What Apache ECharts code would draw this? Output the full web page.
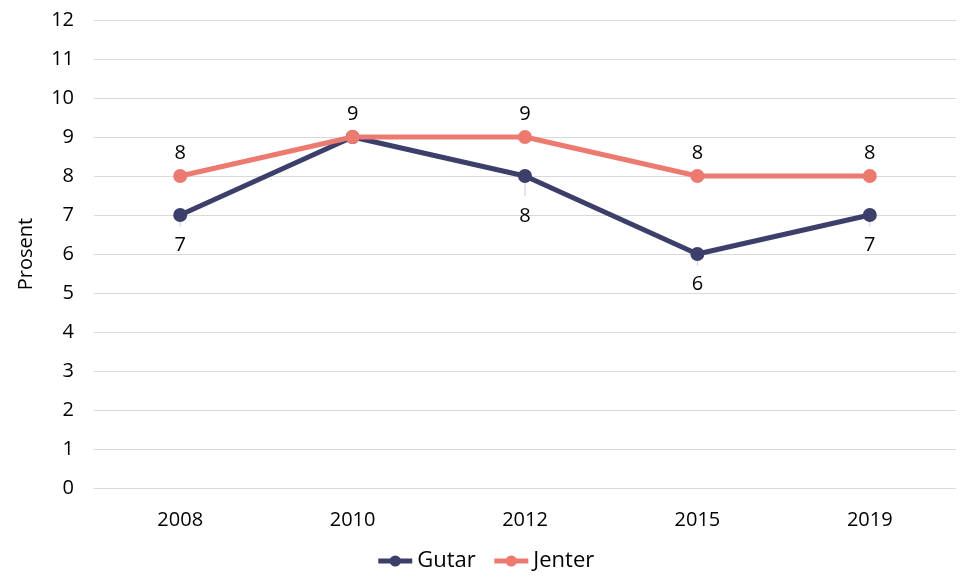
<!DOCTYPE html>
<html>
<head>
<meta charset="utf-8">
<script src="https://cdn.jsdelivr.net/npm/echarts@6/dist/echarts.min.js"></script>
<style>
  html, body { margin: 0; padding: 0; background: #fff; }
  #chart { width: 970px; height: 583px; }
</style>
</head>
<body>
<div id="chart"></div>
<script>
// årstall og verdiar (prosent)
const years = ['2008', '2010', '2012', '2015', '2019'];
const gutar = [7, 9, 8, 6, 7];
const jenter = [8, 9, 9, 8, 8];

const font = '"Open Sans", "Liberation Sans", sans-serif';
const chart = echarts.init(document.getElementById('chart'));

// etikett for gutar: skjul der den overlappar jenter, 2012 står lenger ned
const gutarData = gutar.map((v, i) => {
    if (v === jenter[i]) return { value: v, label: { show: false } };
    if (i === 2) return { value: v, label: { distance: 23 } };
    return v;
});
// korte hjelpelinjer frå punkt til etikett
const leaderData = gutar.map((v, i) => {
    if (v === jenter[i]) return null;
    if (i === 2) return { value: [i, v], symbolSize: [1, 20], symbolOffset: [0, 10] };
    return { value: [i, v], symbolSize: [1, 11], symbolOffset: [0, 6] };
}).filter(d => d);

chart.setOption({
    textStyle: { fontFamily: font },
    grid: { left: 94, right: 14, top: 20, bottom: 95 },
    legend: {
        bottom: 6,
        itemGap: 16,
        itemWidth: 34,
        itemHeight: 14,
        data: ['Gutar', 'Jenter'],
        lineStyle: { width: 5 },
        textStyle: { fontSize: 22, color: '#000', fontFamily: font }
    },
    xAxis: {
        type: 'category',
        data: years,
        axisLine: { show: true, lineStyle: { color: '#d9d9d9' } },
        axisTick: { show: false },
        axisLabel: { fontSize: 20, color: '#000', margin: 22 }
    },
    yAxis: {
        type: 'value',
        min: 0,
        max: 12,
        interval: 1,
        name: 'Prosent',
        nameLocation: 'middle',
        nameGap: 58,
        nameTextStyle: { fontSize: 20, color: '#000' },
        axisLine: { show: false },
        axisTick: { show: false },
        axisLabel: { fontSize: 20, color: '#000', margin: 20 },
        splitLine: { lineStyle: { color: '#d9d9d9' } }
    },
    series: [
        {
            name: 'hjelpelinje',
            type: 'scatter',
            data: leaderData,
            symbol: 'rect',
            itemStyle: { color: '#bfbfbf' },
            silent: true,
            z: 1
        },
        {
            name: 'Gutar',
            type: 'line',
            data: gutarData,
            color: '#3d3f6b',
            symbol: 'circle',
            symbolSize: 14,
            lineStyle: { width: 5 },
            z: 2,
            label: { show: true, position: 'bottom', distance: 13, fontSize: 20, color: '#000' }
        },
        {
            name: 'Jenter',
            type: 'line',
            data: jenter,
            color: '#ec7a70',
            symbol: 'circle',
            symbolSize: 14,
            lineStyle: { width: 5 },
            z: 3,
            label: { show: true, position: 'top', distance: 6, fontSize: 20, color: '#000' }
        }
    ]
});
</script>
</body>
</html>
